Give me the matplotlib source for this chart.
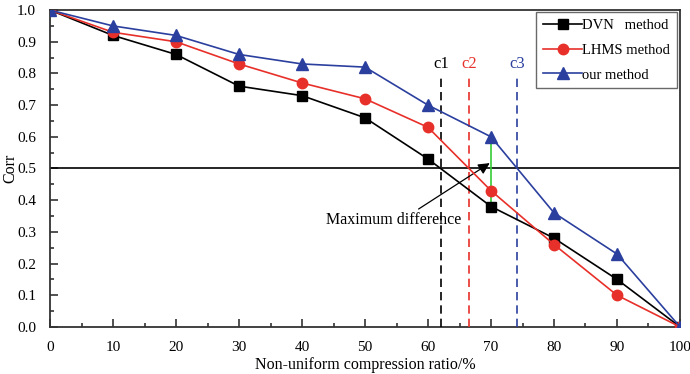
import matplotlib
matplotlib.use("Agg")
import matplotlib.pyplot as plt
from matplotlib.ticker import MultipleLocator

plt.rcParams['font.family'] = ['Liberation Serif', 'DejaVu Serif']

## data
ratio = [0, 10, 20, 30, 40, 50, 60, 70, 80, 90, 100]
dvn = [1.0, 0.92, 0.86, 0.76, 0.73, 0.66, 0.53, 0.38, 0.28, 0.15, 0.0]
lhms = [1.0, 0.93, 0.90, 0.83, 0.77, 0.72, 0.63, 0.43, 0.26, 0.10, 0.0]
ours = [1.0, 0.95, 0.92, 0.86, 0.83, 0.82, 0.70, 0.60, 0.36, 0.23, 0.0]

cuts = [62.1, 66.5, 74.2]
cut_names = ["c1", "c2", "c3"]
threshold = 0.5

black = "#000000"
red = "#e8302a"
blue = "#2b3f9e"

fig = plt.figure(figsize=(6.9, 3.74), dpi=100)
ax = fig.add_axes([0.0725, 0.126, 0.913, 0.847])

ax.plot(ratio, dvn, color=black, marker="s", ms=7, lw=1.2, label="DVN   method", zorder=5)
ax.plot(ratio, lhms, color=red, marker="o", ms=7.5, lw=1.2, label="LHMS method", zorder=5)
ax.plot(ratio, ours, color=blue, marker="^", ms=8, lw=1.2, label="our method", zorder=5)

ax.axhline(threshold, color="black", lw=1.2, zorder=2)

for x, name, c in zip(cuts, cut_names, [black, red, blue]):
    ax.plot([x, x], [0, 0.79], color=c, ls=(0, (5, 3)), lw=1.2, zorder=3)
    ax.text(x, 0.83, name, color=c, ha="center", va="center", fontsize=12)

# max difference at 70
i = ratio.index(70)
ax.plot([70, 70], [dvn[i], ours[i]], color="#33cc33", lw=1.2, zorder=4)
ax.annotate("Maximum difference", xy=(69.8, 0.517), xytext=(54.6, 0.338),
            ha="center", va="center", fontsize=11.5,
            arrowprops=dict(arrowstyle="-|>", color="black", lw=0.9,
                            mutation_scale=17, shrinkA=0, shrinkB=0,
                            relpos=(0.65, 1.0)))

ax.set_xlim(0, 100)
ax.set_ylim(0, 1.0)
ax.xaxis.set_major_locator(MultipleLocator(10))
ax.xaxis.set_minor_locator(MultipleLocator(5))
ax.yaxis.set_major_locator(MultipleLocator(0.1))
ax.yaxis.set_minor_locator(MultipleLocator(0.05))
ax.yaxis.set_major_formatter(plt.FormatStrFormatter("%.1f"))
ax.tick_params(which="both", direction="in", width=1.2, colors="#333333", labelcolor="black", labelsize=11)
ax.tick_params(which="major", length=6)
ax.tick_params(axis="x", which="major", pad=10)
ax.tick_params(axis="y", which="major", pad=10)
ax.tick_params(which="minor", length=3)
for s in ax.spines.values():
    s.set_linewidth(1.3)
    s.set_color("#333333")

ax.set_xlabel("Non-uniform compression ratio/%", fontsize=11.5, labelpad=2)
ax.set_ylabel("Corr", fontsize=11.5)
ax.yaxis.set_label_coords(-0.05, 0.5)

leg = ax.legend(loc="upper right", bbox_to_anchor=(0.995, 0.994), borderaxespad=0,
                fontsize=10.5, handlelength=2.7, handletextpad=0.0,
                borderpad=0.45, labelspacing=0.8, fancybox=False, edgecolor="#444444")
leg.get_frame().set_linewidth(1.0)

plt.savefig("out.png", dpi=100)
